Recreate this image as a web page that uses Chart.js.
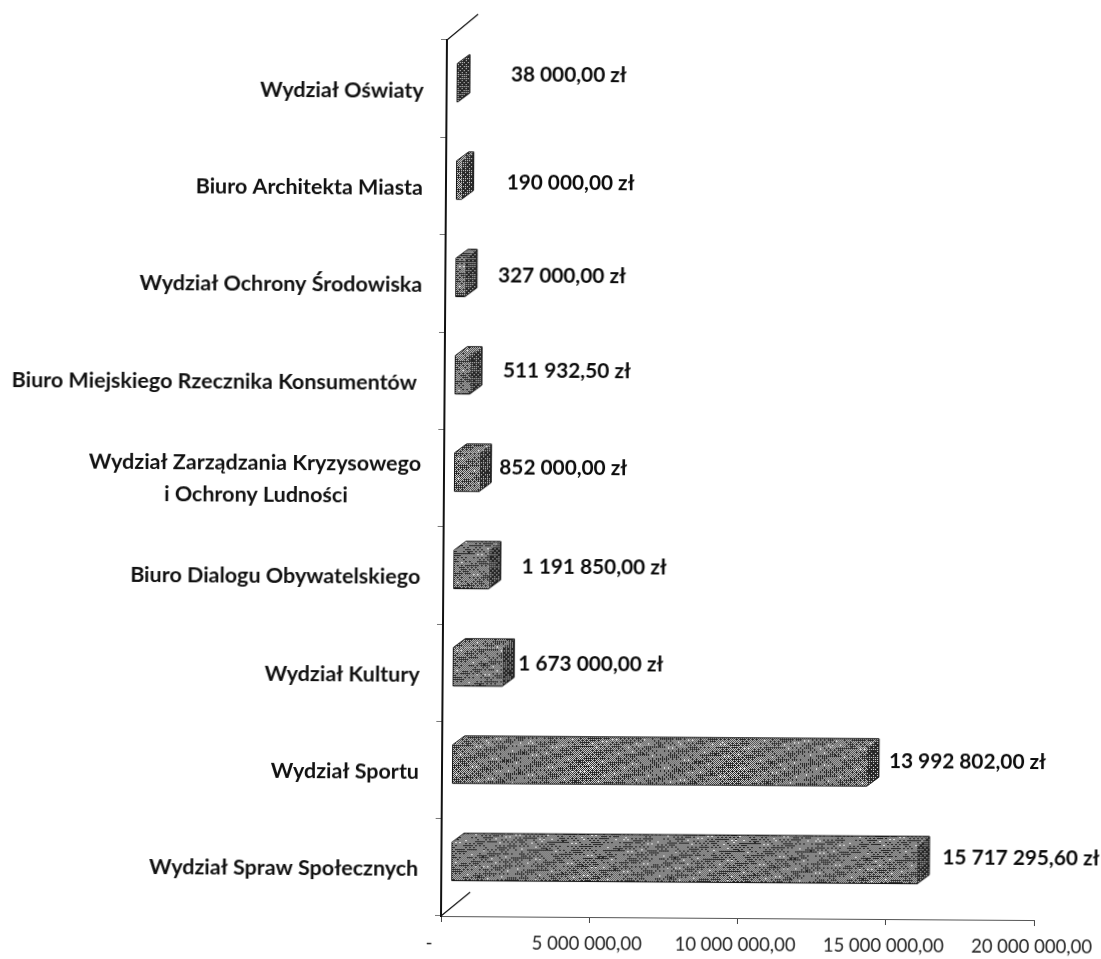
<!DOCTYPE html>
<html><head><meta charset="utf-8">
<style>
html,body{margin:0;padding:0;background:#fff;overflow:hidden;width:1101px;height:959px}
canvas{display:block;transform-origin:441px 916px;transform:rotate(0.39deg)}
</style>
<script src="https://cdn.jsdelivr.net/npm/chart.js@4"></script>
</head><body><canvas id="c" width="1101" height="959"></canvas>
<script>
const NB='\u00a0';
const categories=[
 'Wydział Oświaty','Biuro Architekta Miasta','Wydział Ochrony Środowiska',
 'Biuro Miejskiego Rzecznika Konsumentów'+NB,
 ['Wydział Zarządzania Kryzysowego','i Ochrony Ludności'+NB.repeat(14)],
 'Biuro Dialogu Obywatelskiego','Wydział Kultury','Wydział Sportu','Wydział Spraw Społecznych'];
const values=[38000,190000,327000,511932.5,852000,1191850,1673000,13992802,15717295.6];
const tickValues=[0,5000000,10000000,15000000,20000000];
// hand-placed data labels in the original: [dx from bar end, dy from band centre]
const labelNudgeX=[63,55,43,43,30,43,26,32,35];
const labelNudgeY=[-14.6,-3.9,-8.2,-10.5,-10.9,-9.4,-9.8,-11.4,-13.2];

const money=v=>{
  const [a,b]=v.toFixed(2).split('.');
  return a.replace(/\B(?=(\d{3})+(?!\d))/g,NB)+','+b;
};
// ordered-dither halftone textures (scanned look)
const B=[[0,32,8,40,2,34,10,42],[48,16,56,24,50,18,58,26],[12,44,4,36,14,46,6,38],[60,28,52,20,62,30,54,22],
         [3,35,11,43,1,33,9,41],[51,19,59,27,49,17,57,25],[15,47,7,39,13,45,5,37],[63,31,55,23,61,29,53,21]];
function halftone(level,wave){
  const s=192,t=document.createElement('canvas');t.width=t.height=s;
  const g=t.getContext('2d'),im=g.createImageData(s,s);
  const P=2*Math.PI;
  for(let y=0;y<s;y++)for(let x=0;x<s;x++){
    const w=.45*Math.sin(P*(5*x/s+11*y/s))+.35*Math.sin(P*(13*x/s-17*y/s)+1)+.3*Math.sin(P*(3*x/s+29*y/s)+2);
    const on=(B[y%8][x%8]+.5)/64 < level+wave*w;
    const c=on?225:40,i=(y*s+x)*4;
    im.data[i]=im.data[i+1]=im.data[i+2]=c;im.data[i+3]=255;
  }
  g.putImageData(im,0,0);
  return document.getElementById('c').getContext('2d').createPattern(t,'repeat');
}
const frontFill=halftone(.4,.2), topFill=halftone(.42,.22), sideFill=halftone(.17,.08);
const SHIFT_X=10,SHIFT_Y=-6,DEPTH_X=12,DEPTH_Y=-9;

const box3d={
  id:'box3d',
  beforeDatasetsDraw(ch){
    const c=ch.ctx;c.save();c.translate(SHIFT_X,SHIFT_Y);
    ch.getDatasetMeta(0).data.forEach(b=>{
      const t=b.y-b.height/2,bot=b.y+b.height/2,l=b.base,r=b.x;
      c.beginPath();c.moveTo(l,t);c.lineTo(l+DEPTH_X,t+DEPTH_Y);c.lineTo(r+DEPTH_X,t+DEPTH_Y);c.lineTo(r,t);c.closePath();
      c.fillStyle=topFill;c.fill();
      c.beginPath();c.moveTo(r,t);c.lineTo(r+DEPTH_X,t+DEPTH_Y);c.lineTo(r+DEPTH_X,bot+DEPTH_Y);c.lineTo(r,bot);c.closePath();
      c.fillStyle=sideFill;c.fill();
    });
  },
  afterDatasetsDraw(ch){
    const c=ch.ctx;
    ch.getDatasetMeta(0).data.forEach(b=>{
      const t=b.y-b.height/2,bot=b.y+b.height/2,l=b.base,r=b.x;
      c.strokeStyle='#111';c.lineWidth=1;
      c.beginPath();c.moveTo(l,bot);c.lineTo(r,bot);c.lineTo(r+DEPTH_X,bot+DEPTH_Y);c.lineTo(r+DEPTH_X,t+DEPTH_Y);c.lineTo(l+DEPTH_X,t+DEPTH_Y);c.lineTo(l,t);c.closePath();c.stroke();
    });
    c.restore();
    // floor / wall edges of the 3D frame
    const a=ch.chartArea;
    c.save();c.strokeStyle='#111';c.lineWidth=1.2;
    c.beginPath();c.moveTo(a.left,a.bottom);c.lineTo(a.left+29,a.bottom-24);
    c.moveTo(a.left,a.top);c.lineTo(a.left+31,a.top-26);c.stroke();
    // value labels
    c.font='700 20.8px Lato';c.fillStyle='#0c0c0c';c.textAlign='left';c.textBaseline='middle';
    const xs=ch.scales.x,ys=ch.scales.y;
    values.forEach((v,i)=>{
      c.fillText(money(v)+NB+'zł',xs.getPixelForValue(v)+labelNudgeX[i],ys.getPixelForTick(i)+labelNudgeY[i]);
    });
    c.restore();
  }
};

new Chart(document.getElementById('c'),{
  type:'bar',
  data:{labels:categories,datasets:[{data:values,backgroundColor:frontFill,barPercentage:.395,categoryPercentage:1,clip:false}]},
  plugins:[box3d],
  options:{
    indexAxis:'y',responsive:false,devicePixelRatio:1,animation:false,
    layout:{padding:{top:40,right:67,left:0,bottom:0}},
    plugins:{legend:{display:false},tooltip:{enabled:false}},
    scales:{
      x:{min:0,max:20000000,
         afterBuildTicks(s){s.ticks=tickValues.map(v=>({value:v}));},
         afterFit(s){s.height=43;s.paddingLeft=0;s.paddingRight=0;},
         border:{color:'#555',width:1},
         grid:{drawOnChartArea:false,drawTicks:true,tickLength:6,color:'#444'},
         ticks:{autoSkip:false,maxRotation:0,padding:10,color:'#222',font:{family:'Lato',size:18.5},
                callback:v=>v===0?'-'+NB.repeat(5):money(v)+NB}},
      y:{afterFit(s){s.width=441;},
         border:{color:'#111',width:2},
         grid:{offset:true,drawOnChartArea:false,drawTicks:true,tickLength:6,color:'#777'},
         ticks:{autoSkip:false,padding:17,labelOffset:2,color:'#111',font:{family:'Lato',size:21.5,weight:'700',lineHeight:1.49}}}
    }
  }
});
</script></body></html>
